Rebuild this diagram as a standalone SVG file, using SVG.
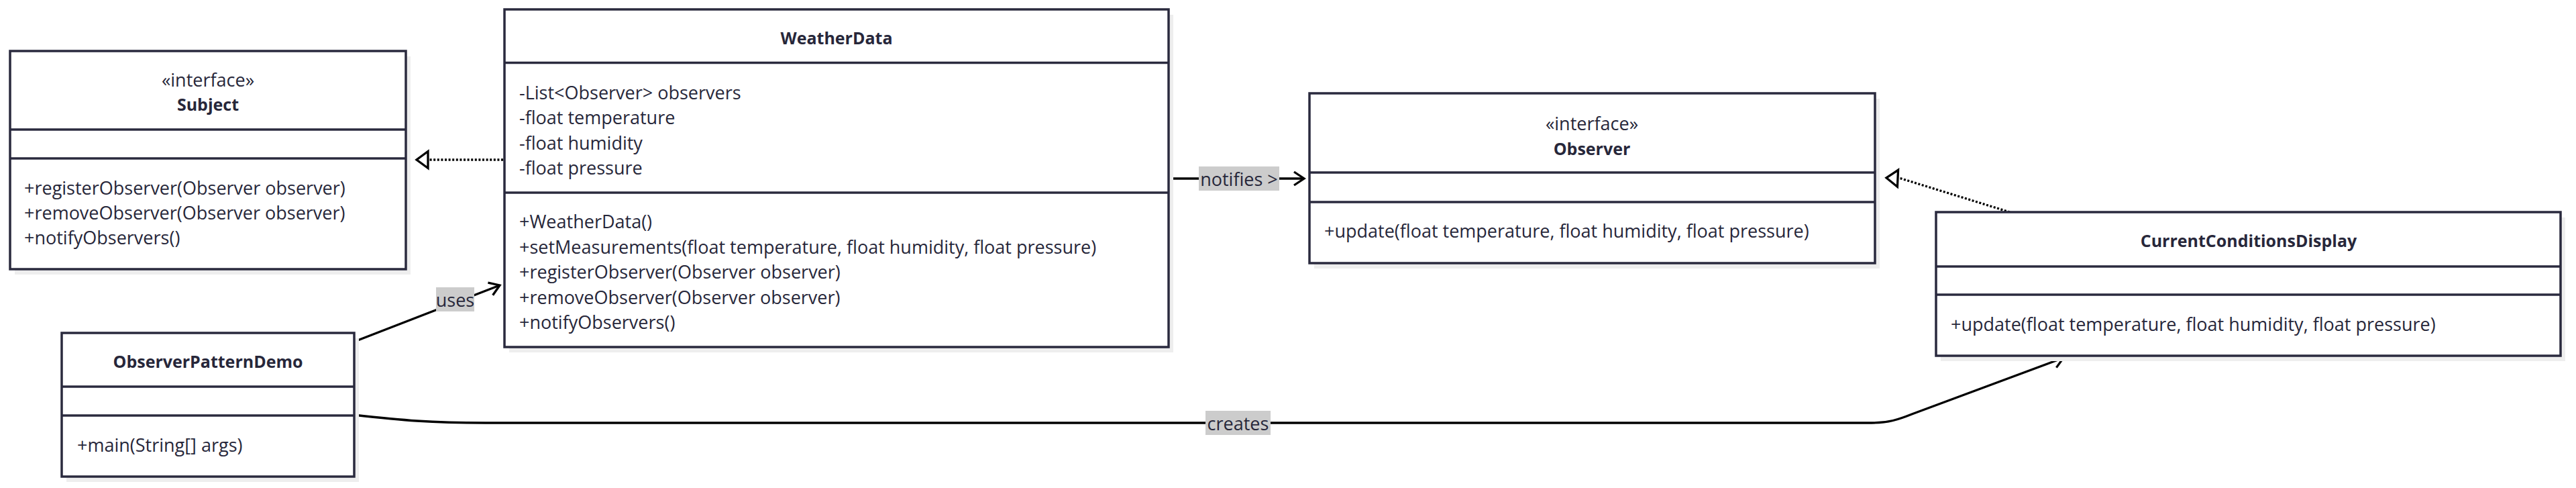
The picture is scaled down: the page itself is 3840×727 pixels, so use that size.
<svg xmlns="http://www.w3.org/2000/svg" width="3840" height="727" viewBox="0 0 3840 727">
<style>
.bg{fill:#ffffff}
.sh{fill:#eeeeee}
.box{fill:#ffffff;stroke:#2a2a3e;stroke-width:3.5}
.div{stroke:#2a2a3e;stroke-width:3.5}
.m{font-family:"Open Sans","Liberation Sans",sans-serif;font-size:27px;fill:#27273a;dominant-baseline:central}
.st{font-family:"Open Sans","Liberation Sans",sans-serif;font-size:27px;fill:#27273a;dominant-baseline:central;text-anchor:middle}
.ti{font-family:"Open Sans","Liberation Sans",sans-serif;font-size:25px;font-weight:bold;fill:#27273a;dominant-baseline:central;text-anchor:middle}
.e{fill:none;stroke:#000000;stroke-width:3.3}
.dot{stroke-dasharray:3 2.6}
.lb{fill:#cccccc}
.lt{font-family:"Open Sans","Liberation Sans",sans-serif;font-size:27px;fill:#27273a;dominant-baseline:central;text-anchor:middle}
</style>
<defs>
<marker id="tri" markerUnits="userSpaceOnUse" markerWidth="30" markerHeight="30" refX="17" refY="12.5" orient="auto" overflow="visible">
<path d="M0,0 L17,12.5 L0,25 Z" fill="#ffffff" stroke="#000000" stroke-width="3.3" stroke-dasharray="none"/>
</marker>
<marker id="open" markerUnits="userSpaceOnUse" markerWidth="30" markerHeight="30" refX="16" refY="10" orient="auto" overflow="visible">
<path d="M1,0 L16,10 L1,20" fill="none" stroke="#000000" stroke-width="3.3" stroke-dasharray="none"/>
</marker>
</defs>
<rect class="bg" x="0" y="0" width="3840" height="727"/>

<g id="connectors">
<path class="e dot" d="M750,238 L621,238" marker-end="url(#tri)"/>
<path class="e" d="M528,509 L745,425" marker-end="url(#open)"/>
<path class="e" d="M1743,266 L1944,266" marker-end="url(#open)"/>
<path class="e dot" d="M2996,316 L2834,266 L2812,265" marker-end="url(#tri)"/>
<path class="e" d="M527,618 C600,626 640,630 724,630 L2790,630 C2815,630 2830,625 2850,617 L3076,533" marker-end="url(#open)"/>
<rect class="lb" x="650" y="428" width="57" height="36"/>
<text class="lt" x="678.5" y="446">uses</text>
<rect class="lb" x="1787" y="248" width="120" height="36"/>
<text class="lt" x="1847" y="266">notifies &gt;</text>
<rect class="lb" x="1797" y="612" width="97" height="36"/>
<text class="lt" x="1845.5" y="630">creates</text>
</g>

<g id="Subject">
<rect class="sh" x="22" y="84" width="590" height="325"/>
<rect class="box" x="15" y="76" width="590" height="325"/>
<line class="div" x1="15" y1="193" x2="605" y2="193"/>
<line class="div" x1="15" y1="236" x2="605" y2="236"/>
<text class="st" x="310" y="118">«interface»</text>
<text class="ti" x="310" y="155">Subject</text>
<text class="m" x="36" y="279">+registerObserver(Observer observer)</text>
<text class="m" x="36" y="316">+removeObserver(Observer observer)</text>
<text class="m" x="36" y="353">+notifyObservers()</text>
</g>

<g id="WeatherData">
<rect class="sh" x="759" y="22" width="990" height="503"/>
<rect class="box" x="752" y="14" width="990" height="503"/>
<line class="div" x1="752" y1="93.5" x2="1742" y2="93.5"/>
<line class="div" x1="752" y1="287" x2="1742" y2="287"/>
<text class="ti" x="1247" y="56">WeatherData</text>
<text class="m" x="774" y="137">-List&lt;Observer&gt; observers</text>
<text class="m" x="774" y="174.5">-float temperature</text>
<text class="m" x="774" y="212">-float humidity</text>
<text class="m" x="774" y="249.5">-float pressure</text>
<text class="m" x="774" y="329">+WeatherData()</text>
<text class="m" x="774" y="367">+setMeasurements(float temperature, float humidity, float pressure)</text>
<text class="m" x="774" y="404.5">+registerObserver(Observer observer)</text>
<text class="m" x="774" y="442">+removeObserver(Observer observer)</text>
<text class="m" x="774" y="479.5">+notifyObservers()</text>
</g>

<g id="Observer">
<rect class="sh" x="1959" y="147" width="843" height="253"/>
<rect class="box" x="1952" y="139" width="843" height="253"/>
<line class="div" x1="1952" y1="257" x2="2795" y2="257"/>
<line class="div" x1="1952" y1="301" x2="2795" y2="301"/>
<text class="st" x="2373" y="183">«interface»</text>
<text class="ti" x="2373" y="221">Observer</text>
<text class="m" x="1974" y="343">+update(float temperature, float humidity, float pressure)</text>
</g>

<g id="CurrentConditionsDisplay">
<rect class="sh" x="2893" y="324" width="931" height="214"/>
<rect class="box" x="2886" y="316" width="931" height="214"/>
<line class="div" x1="2886" y1="397" x2="3817" y2="397"/>
<line class="div" x1="2886" y1="439" x2="3817" y2="439"/>
<text class="ti" x="3352" y="358">CurrentConditionsDisplay</text>
<text class="m" x="2908" y="482">+update(float temperature, float humidity, float pressure)</text>
</g>

<g id="ObserverPatternDemo">
<rect class="sh" x="99" y="504" width="436" height="214"/>
<rect class="box" x="92" y="496" width="436" height="214"/>
<line class="div" x1="92" y1="576" x2="528" y2="576"/>
<line class="div" x1="92" y1="619" x2="528" y2="619"/>
<text class="ti" x="310" y="538">ObserverPatternDemo</text>
<text class="m" x="115" y="662">+main(String[] args)</text>
</g>
</svg>
